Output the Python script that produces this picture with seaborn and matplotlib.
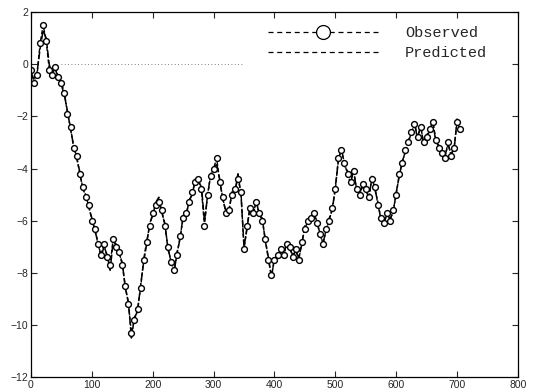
import numpy as np
import pandas as pd
import seaborn as sns
import matplotlib
matplotlib.use("Agg")
import matplotlib.pyplot as plt
from matplotlib.lines import Line2D

x_obs = list(range(0, 710, 5))
observed = [-0.2, -0.7, -0.4, 0.8, 1.5, 0.9, -0.2, -0.4, -0.1, -0.5,
            -0.7, -1.1, -1.9, -2.4, -3.2, -3.5, -4.2, -4.7, -5.1, -5.4,
            -6.0, -6.3, -6.9, -7.3, -6.9, -7.4, -7.7, -6.7, -7.0, -7.2,
            -7.7, -8.5, -9.2, -10.3, -9.8, -9.4, -8.6, -7.5, -6.8, -6.2,
            -5.7, -5.4, -5.3, -5.6, -6.2, -7.0, -7.6, -7.9, -7.3, -6.6,
            -5.9, -5.7, -5.3, -4.9, -4.5, -4.4, -4.8, -6.2, -5.0, -4.3,
            -4.0, -3.6, -4.5, -5.1, -5.7, -5.6, -5.0, -4.8, -4.4, -4.9,
            -7.1, -6.2, -5.5, -5.7, -5.3, -5.7, -6.0, -6.7, -7.5, -8.1,
            -7.5, -7.3, -7.1, -7.3, -6.9, -7.0, -7.4, -7.1, -7.5, -6.8,
            -6.3, -6.0, -5.9, -5.7, -6.1, -6.5, -6.9, -6.3, -6.0, -5.5,
            -4.8, -3.6, -3.3, -3.8, -4.2, -4.5, -4.1, -4.8, -5.0, -4.6,
            -4.8, -5.1, -4.4, -4.7, -5.4, -5.9, -6.1, -5.7, -6.0, -5.6,
            -5.0, -4.2, -3.8, -3.3, -3.0, -2.6, -2.3, -2.8, -2.4, -3.0,
            -2.8, -2.5, -2.2, -2.9, -3.2, -3.4, -3.6, -3.0, -3.5, -3.2,
            -2.2, -2.5]
predicted = [-0.3, -0.6, -0.3, 0.6, 1.3, 1.0, 0.0, -0.4, -0.2, -0.5,
             -0.8, -1.2, -1.8, -2.5, -3.1, -3.6, -4.1, -4.8, -5.0, -5.5,
             -5.9, -6.4, -6.8, -7.4, -7.0, -7.3, -7.9, -6.8, -6.9, -7.3,
             -7.6, -8.6, -9.1, -10.5, -9.7, -9.5, -8.5, -7.6, -6.9, -6.1,
             -5.8, -5.3, -5.1, -5.7, -6.1, -7.1, -7.5, -8.0, -7.2, -6.7,
             -5.8, -5.8, -5.2, -5.0, -4.4, -4.5, -4.7, -6.0, -5.1, -4.2,
             -4.1, -3.8, -4.4, -5.2, -5.6, -5.7, -4.9, -4.9, -4.2, -5.0,
             -7.0, -6.3, -5.4, -5.8, -5.2, -5.8, -5.9, -6.8, -7.4, -8.2,
             -7.4, -7.4, -7.0, -7.4, -6.8, -7.1, -7.3, -7.2, -7.4, -6.9,
             -6.2, -6.1, -5.8, -5.8, -6.0, -6.6, -6.8, -6.4, -5.9, -5.6,
             -4.7, -3.7, -3.2, -3.9, -4.1, -4.6, -4.0, -4.9, -4.9, -4.7,
             -4.7, -5.2, -4.3, -4.8, -5.3, -6.0, -6.0, -5.8, -5.9, -5.7,
             -4.9, -4.3, -3.7, -3.4, -2.9, -2.7, -2.2, -2.9, -2.3, -3.1,
             -2.7, -2.6, -2.1, -3.0, -3.1, -3.5, -3.5, -3.1, -3.4, -3.3,
             -2.1, -2.6]

x_ticks = [0, 100, 200, 300, 400, 500, 600, 700, 800]
y_ticks = [-12, -10, -8, -6, -4, -2, 0, 2]

df = pd.DataFrame({"x": x_obs, "Observed": observed, "Predicted": predicted})

sns.set_style("ticks")
plt.rcParams["font.family"] = ["Liberation Sans", "DejaVu Sans"]

fig = plt.figure(figsize=(5.34, 3.92), dpi=100)
ax = fig.add_axes([0.058, 0.038, 0.912, 0.931])

sns.lineplot(data=df, x="x", y="Predicted", ax=ax, color="black",
             linewidth=1.1, linestyle=(0, (5, 1.5)))
sns.lineplot(data=df, x="x", y="Observed", ax=ax, color="black",
             linewidth=1.0, linestyle=(0, (3, 1.5)), marker="o",
             markersize=4.2, markerfacecolor="white",
             markeredgecolor="black", markeredgewidth=1.0)

# faint dotted reference at zero
ax.plot([50, 350], [0, 0], color="#555555", linestyle=(0, (1, 3)), linewidth=0.6)

ax.set_xlim(0, 800)
ax.set_ylim(-12, 2)
ax.set_xticks(x_ticks)
ax.set_yticks(y_ticks)
ax.set_xlabel("")
ax.set_ylabel("")
ax.tick_params(direction="in", length=4, width=0.8, labelsize=7.5,
               top=True, right=True, labeltop=False, labelright=False, pad=2)
for s in ax.spines.values():
    s.set_linewidth(0.9)
    s.set_color("black")

handles = [
    Line2D([0], [0], color="black", linestyle=(0, (4, 3)), linewidth=0.9,
           marker="o", markersize=10, markerfacecolor="white",
           markeredgecolor="black", markeredgewidth=0.9),
    Line2D([0], [0], color="black", linestyle=(0, (4, 3)), linewidth=0.9),
]
leg = ax.legend(handles, ["Observed", "Predicted"], loc="upper right",
                frameon=False, handlelength=7.2, numpoints=1,
                prop={"family": "Liberation Mono", "size": 11},
                bbox_to_anchor=(0.965, 1.0), labelspacing=0.4, handletextpad=1.8)

fig.savefig("out.png", dpi=100)
